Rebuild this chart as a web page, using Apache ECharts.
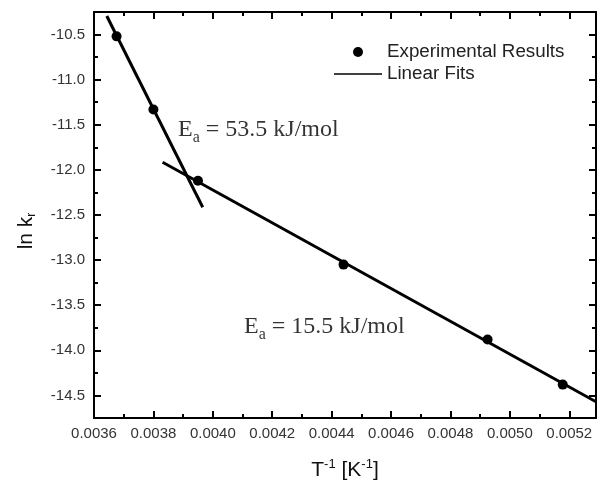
<!DOCTYPE html>
<html>
<head>
<meta charset="utf-8">
<script src="https://cdn.jsdelivr.net/npm/echarts@6/dist/echarts.min.js"></script>
<style>
  html, body { margin: 0; padding: 0; background: #fff; }
  #chart { width: 597px; height: 483px; }
</style>
</head>
<body>
<div id="chart"></div>
<script>
// Arrhenius data: inverse temperature vs. ln of the rate constant
const invT = [0.003676, 0.0038, 0.00395, 0.00444, 0.004925, 0.005178];
const lnK  = [-10.52, -11.33, -12.12, -13.05, -13.88, -14.38];

// Linear fit segments (end points)
const fitHighX = [0.003643, 0.003966];
const fitHighY = [-10.294, -12.414];
const fitLowX  = [0.003831, 0.00529];
const fitLowY  = [-11.916, -14.570];

// Activation energy annotations: anchor x, anchor y, value text
const noteX = [0.003883, 0.004105];
const noteY = [-11.58, -13.764];
const noteEa = ['53.5', '15.5'];

// Axis ranges and tick steps
const xMin = 0.0036, xMax = 0.00529, xMajor = 0.0002, xMinor = 0.0001;
const yMin = -14.75, yMax = -10.25, yStep = 0.25;

const SANS = '"Liberation Sans", Arial, sans-serif';
const SERIF = '"Liberation Serif", "Times New Roman", serif';

const pairs = (xs, ys) => xs.map((x, i) => [x, ys[i]]);

function xAx(position, interval, tickLen, withLine, withLabels) {
  const ax = {
    type: 'value', position: position, min: xMin, max: xMax, interval: interval,
    axisLine: { show: withLine, onZero: false, lineStyle: { color: '#000', width: 2 } },
    axisTick: { show: true, inside: true, length: tickLen, lineStyle: { color: '#000', width: 2 } },
    axisLabel: { show: false },
    splitLine: { show: false }
  };
  if (withLabels) {
    ax.axisLabel = {
      show: true, margin: 8, color: '#333', fontSize: 15, fontFamily: SANS,
      showMaxLabel: false,
      formatter: v => v.toFixed(4)
    };
    ax.name = 'T{sup|-1} [K{sup|-1}]';
    ax.nameLocation = 'middle';
    ax.nameGap = 40;
    ax.nameTextStyle = {
      color: '#111', fontSize: 21, fontFamily: SANS, lineHeight: 24,
      rich: { sup: { fontSize: 13, fontFamily: SANS, color: '#111', lineHeight: 13, verticalAlign: 'top' } }
    };
  }
  return ax;
}

function yAx(position, interval, tickLen, withLine, withLabels) {
  const ax = {
    type: 'value', position: position, min: yMin, max: yMax,
    axisLine: { show: withLine, onZero: false, lineStyle: { color: '#000', width: 2 } },
    axisTick: { show: true, inside: true, length: tickLen, lineStyle: { color: '#000', width: 2 } },
    axisLabel: { show: false },
    splitLine: { show: false }
  };
  if (interval) ax.interval = interval; else ax.splitNumber = 9;
  if (withLabels) {
    ax.axisLabel = {
      show: true, margin: 9, color: '#333', fontSize: 15, fontFamily: SANS,
      formatter: v => (Math.abs(v * 2 - Math.round(v * 2)) < 1e-6 ? v.toFixed(1) : '')
    };
    ax.name = 'ln k{sub|r}';
    ax.nameLocation = 'middle';
    ax.nameRotate = 90;
    ax.nameGap = 56;
    ax.nameTextStyle = {
      color: '#111', fontSize: 21, fontFamily: SANS, lineHeight: 24,
      padding: [0, 32, 0, 0],
      rich: { sub: { fontSize: 12, fontFamily: SANS, color: '#111', lineHeight: 12, verticalAlign: 'bottom' } }
    };
  }
  return ax;
}

const chart = echarts.init(document.getElementById('chart'), null, { renderer: 'canvas' });

chart.setOption({
  animation: false,
  backgroundColor: '#fff',
  grid: { left: 94, right: 1, top: 12, bottom: 65, containLabel: false, outerBoundsMode: 'none' },
  xAxis: [
    xAx('bottom', xMajor, 7, true, true),
    xAx('bottom', xMinor, 4, false, false),
    xAx('top', xMajor, 7, true, false),
    xAx('top', xMinor, 4, false, false)
  ],
  yAxis: [
    yAx('left', yStep, 4, true, true),
    yAx('left', null, 7, false, false),
    yAx('right', yStep, 4, true, false),
    yAx('right', null, 7, false, false)
  ],
  legend: {
    orient: 'vertical', left: 329, top: 37,
    itemWidth: 48, itemHeight: 10, itemGap: 2,
    data: [
      { name: 'Experimental Results' },
      { name: 'Linear Fits', icon: 'path://M0,0H48V1.6H0Z' }
    ],
    textStyle: { color: '#222', fontSize: 18.8, fontFamily: SANS, lineHeight: 20 },
    selectedMode: false
  },
  series: [
    {
      name: 'Linear Fits', type: 'line', xAxisIndex: 0, yAxisIndex: 0,
      data: pairs(fitHighX, fitHighY), symbol: 'none',
      lineStyle: { color: '#000', width: 3 }, itemStyle: { color: '#000' }
    },
    {
      name: 'Linear Fits', type: 'line', xAxisIndex: 0, yAxisIndex: 0,
      data: pairs(fitLowX, fitLowY), symbol: 'none',
      lineStyle: { color: '#000', width: 3 }, itemStyle: { color: '#000' }
    },
    {
      name: 'Experimental Results', type: 'scatter', xAxisIndex: 0, yAxisIndex: 0,
      data: pairs(invT, lnK), symbol: 'circle', symbolSize: 10,
      itemStyle: { color: '#000', opacity: 1 }, z: 3
    },
    {
      name: 'Ea', type: 'scatter', xAxisIndex: 0, yAxisIndex: 0, silent: true,
      data: noteX.map((x, i) => ({ value: [x, noteY[i]], ea: noteEa[i] })),
      symbolSize: 0,
      label: {
        show: true, position: 'right', distance: 0,
        formatter: p => '{e|E}{s|a}{e| = ' + p.data.ea + ' kJ/mol}',
        rich: {
          e: { fontFamily: SERIF, fontSize: 24, color: '#000', lineHeight: 28, verticalAlign: 'top' },
          s: { fontFamily: SERIF, fontSize: 16, color: '#000', lineHeight: 16, verticalAlign: 'bottom' }
        }
      }
    }
  ]
});
</script>
</body>
</html>
